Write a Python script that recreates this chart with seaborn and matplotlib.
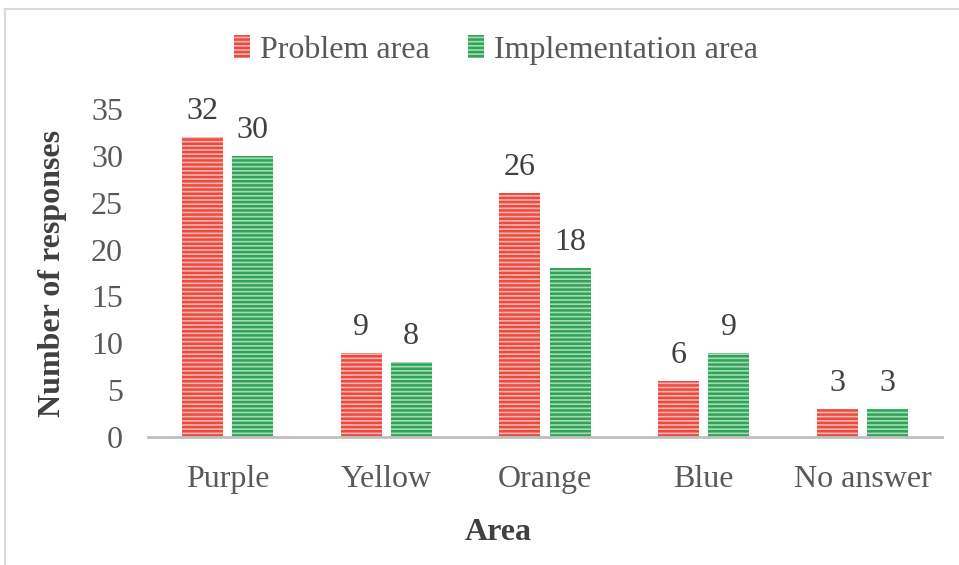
import matplotlib
matplotlib.use("Agg")
import matplotlib.pyplot as plt
import seaborn as sns
import pandas as pd
from matplotlib.patches import Patch

categories = ["Purple", "Yellow", "Orange", "Blue", "No answer"]
series_names = ["Problem area", "Implementation area"]
problem = [32, 9, 26, 6, 3]
implementation = [30, 8, 18, 9, 3]
yticks = [0, 5, 10, 15, 20, 25, 30, 35]

df = pd.DataFrame({
    "Area": categories * 2,
    "Series": [series_names[0]] * 5 + [series_names[1]] * 5,
    "Value": problem + implementation,
})

sns.set_theme(style="white")
plt.rcParams["font.family"] = ["Liberation Serif", "DejaVu Serif"]
plt.rcParams["hatch.linewidth"] = 1.8
gray = "#595959"
FS = 23

fig = plt.figure(figsize=(9.59, 5.65), dpi=100)
ax = fig.add_axes([148 / 959, 1 - 437 / 565, (942 - 148) / 959, (437 - 109) / 565])

face = ["#f8b4ae", "#a6dbb4"]
edge = ["#ec4a3f", "#2fa35a"]
sns.barplot(data=df, x="Area", y="Value", hue="Series", order=categories,
            hue_order=series_names, palette=face, width=0.63, gap=0.18,
            ax=ax, legend=False, saturation=1)

for i, cont in enumerate(ax.containers):
    for p in cont:
        p.set_hatch("----")
        p.set_edgecolor(edge[i])
        p.set_linewidth(0)
    ax.bar_label(cont, padding=8, fontsize=FS, color="#404040")

ax.set_ylim(0, 35)
ax.set_xlim(-0.5, 4.5)
ax.set_yticks(yticks)
ax.tick_params(axis="both", labelsize=FS, colors=gray, length=0)
ax.tick_params(axis="x", pad=20)
ax.tick_params(axis="y", pad=18)
for s in ["top", "right", "left"]:
    ax.spines[s].set_visible(False)
ax.spines["bottom"].set_color("#bfbfbf")
ax.spines["bottom"].set_linewidth(2)
ax.set_xlabel("Area", fontsize=FS, fontweight="bold", color="#404040", labelpad=19)
ax.xaxis.set_label_coords((498 - 148) / 794, -(533 - 437) / 328, transform=ax.transAxes)
ax.xaxis.get_label().set_va("center")
ax.set_ylabel("Number of responses", fontsize=FS, fontweight="bold", color="#404040", labelpad=17)

handles = [Patch(facecolor=face[i], edgecolor=edge[i], hatch="----", linewidth=0)
           for i in range(2)]
fig.legend(handles, series_names, loc="center", bbox_to_anchor=(496 / 959, 1 - 50 / 565),
           ncol=2, frameon=False, fontsize=FS, handlelength=0.5, handleheight=0.75,
           handletextpad=0.3, columnspacing=1.2, labelcolor=gray)

# outer frame (top and left lines)
fig.add_artist(plt.Line2D([5 / 959, 1], [1 - 9 / 565, 1 - 9 / 565], color="#d9d9d9", lw=1.5))
fig.add_artist(plt.Line2D([5 / 959, 5 / 959], [1 - 9 / 565, 0], color="#d9d9d9", lw=1.5))

fig.savefig("out.png", dpi=100)
